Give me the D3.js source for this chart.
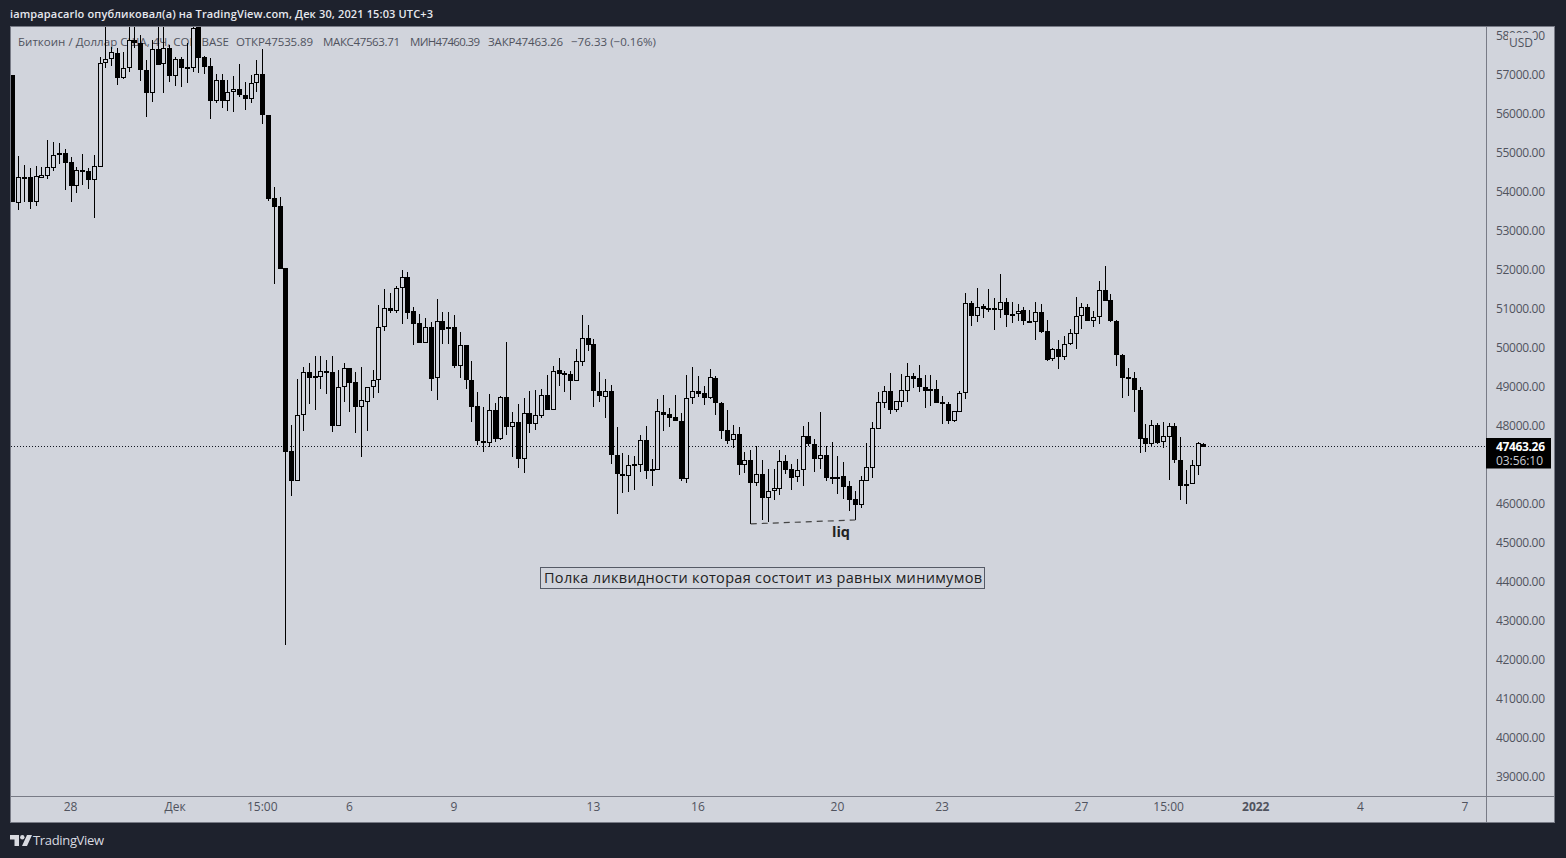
<!DOCTYPE html>
<html><head><meta charset="utf-8">
<script src="https://cdn.jsdelivr.net/npm/d3@7"></script>
<style>
html,body{margin:0;padding:0;background:#1e222d;overflow:hidden}
svg{display:block}
text{font-family:"Open Sans","Noto Sans",sans-serif}
</style></head><body><svg id="c" width="1566" height="858"></svg>
<script>
const open=[
57000,53730,54360,54385,53750,54370,54420,54620,54940,55000,
54760,54160,54555,54540,54315,54650,57320,57400,57555,56930,
57170,57910,57810,57140,56550,57660,57270,57680,56980,57400,
57205,57190,58400,57450,57230,56340,56870,56340,56555,56640,
56500,56380,56790,57020,55980,53840,53640,52050,47360,46600,
48290,49375,49270,49265,49400,49375,48010,48990,49485,49130,
48495,48625,48990,49170,50530,51015,50955,51530,51810,50940,
50630,50135,50530,49240,50685,50480,50530,49545,50070,49190,
48500,47625,47570,48400,47665,48735,47980,48115,47160,48325,
48060,48265,48785,48420,49425,49360,49325,49160,49650,50250,
50095,48900,48755,48890,47260,46780,46725,47025,47000,47630,
46890,46880,48350,48300,48220,48140,46630,48710,48890,48835,
48725,49220,48600,47885,47630,47785,47010,47120,46545,46760,
46165,46325,46395,47095,46890,46685,46860,47735,47550,47165,
47250,46690,46700,46710,46460,46120,45975,46600,46935,47935,
48600,48890,48410,48625,48910,49275,49220,49010,48940,48940,
48605,48555,48130,48370,48840,51145,50830,51065,51015,51015,
50985,51170,50870,50860,50965,50705,50675,50915,50425,49710,
49965,49775,50090,50370,50810,51040,50700,50785,51480,51220,
50690,49830,49245,49220,48935,47680,47545,48015,47580,47730,
47990,47140,46470,46520,46985,47535.89];
const high=[
57000,54920,54690,54620,54670,54630,55330,55270,55250,55100,
54910,54650,54970,54610,54950,57470,58400,57730,57680,57600,
58500,58400,58030,57385,57900,58400,58350,57770,57470,57450,
57810,58300,58500,57490,57430,57030,57030,56870,56970,57280,
56810,57000,57385,57660,55980,54120,53880,52050,48025,49205,
49505,49615,49795,49795,49690,49795,49435,49615,49485,49385,
49510,48990,49435,51095,51510,51410,51580,52000,51940,51050,
50870,50760,50665,51245,50925,50925,50845,50400,50075,49665,
48870,48490,48820,48580,48770,50150,48350,48555,48710,48895,
48925,48950,49305,49540,49745,49420,49410,49975,50845,50590,
50230,49385,49195,49050,47975,47300,47255,47230,47760,47990,
47155,48690,48795,48460,48795,48335,49305,49510,49280,49025,
49455,49270,48610,48410,48025,47965,47335,47375,47480,47120,
46890,46890,47375,47250,47015,47145,48000,48105,47660,48360,
47480,47580,47230,47070,46590,46335,46710,47555,48095,48865,
49015,49360,48640,49335,49605,49350,49565,49310,49310,49170,
48760,48605,48380,48890,51400,51205,51530,51120,51510,51275,
51895,51275,51180,51120,51050,50965,51180,51120,50710,49990,
50205,50305,50480,51305,51155,51120,50950,51710,52100,51385,
50710,49840,49490,49375,49000,48050,48145,48070,48095,48070,
48070,47710,46870,47120,47580,47563.71];
const low=[
53750,53540,53750,53560,53640,54350,54330,54540,54720,54050,
53750,53980,54180,54080,53340,54650,57170,57240,56740,56910,
57085,57700,56850,55930,56320,57256,56550,56830,56730,56700,
56790,57085,57040,57030,55860,56290,56145,56085,56060,56430,
56100,56290,56570,55740,53770,51640,52030,42380,46205,46600,
47870,48565,48410,48940,48820,47845,48010,48615,48360,47820,
47215,47870,48720,48845,50435,50895,50895,50615,50745,50075,
50135,50135,48895,48665,50100,50100,49485,49230,48950,48100,
47510,47335,47470,47590,47640,47770,47215,46925,46800,47820,
47895,48215,48420,48420,49025,48870,48665,49160,49545,49925,
48485,48615,48205,47025,45745,46280,46305,46360,46820,46640,
46460,46880,47870,47975,48135,46590,46540,48565,48745,48540,
48685,48280,47660,47540,47445,46745,46795,45490,46470,45590,
45545,46105,46230,46760,46360,46565,46460,47480,46820,46900,
46590,46515,46255,46130,45810,45590,45900,46600,46660,47935,
48460,48310,48360,48485,48615,48965,48870,48460,48515,48590,
48050,48050,48100,48370,48700,50570,50675,50775,50915,50470,
50775,50545,50650,50700,50600,50675,50215,50395,49665,49675,
49470,49700,50085,49985,50495,50700,50545,50625,51215,50665,
49545,48725,48775,48365,47315,47340,47485,47535,47445,46625,
47060,46110,46010,46520,46735,47460.39];
const close=[
53750,54380,54380,53750,54400,54430,54630,54940,54990,54750,
54160,54555,54520,54310,54660,57300,57400,57580,56930,57170,
57910,57810,57130,56550,57660,57260,57680,56980,57400,57190,
57190,58200,57444,57210,56340,56870,56340,56555,56630,56490,
56380,56790,57020,55980,53820,53620,52030,47340,46600,48270,
49375,49240,49240,49400,49360,48010,48990,49480,49110,48495,
48660,48990,49170,50530,51015,50955,51530,51810,50905,50625,
50135,50530,49215,50685,50470,50530,49540,50070,49190,48495,
47625,47570,48400,47665,48735,47980,48110,47160,48325,48060,
48275,48785,48420,49400,49340,49315,49155,49660,50250,50085,
48895,48780,48890,47255,46780,46720,46990,46985,47630,46845,
46845,48375,48280,48205,48135,46640,48710,48890,48830,48725,
49250,48600,47880,47625,47785,47010,47120,46545,46760,46165,
46325,46400,47095,46870,46665,46865,47735,47545,47165,47250,
46665,46665,46675,46435,46110,45975,46605,46940,47940,48605,
48890,48410,48635,48915,49275,49205,49010,48900,48905,48590,
48555,48130,48375,48840,51145,50830,51060,51010,50995,50985,
51170,50855,50855,50955,50700,50675,50915,50420,49690,49965,
49775,50095,50375,50810,51040,50700,50785,51480,51215,50690,
49830,49240,49215,48930,47665,47545,48015,47570,47735,47990,
47135,46470,46520,46990,47555,47463.26];
const priceTicks=[39000,40000,41000,42000,43000,44000,45000,46000,48000,49000,50000,51000,52000,53000,54000,55000,56000,57000,58000];
const timeTickIdx=[10,28,43,58,76,100,118,142,160,184,199,214,232,250];
const timeTickLabels=["28","Дек","15:00","6","9","13","16","20","23","27","15:00","2022","4","7"];
const lastPrice=47463.26, countdown="03:56:10", changeText="−76.33 (−0.16%)";
const liqFrom=[127,45490], liqTo=[145,45590];
const headerText="iampapacarlo опубликовал(а) на TradingView.com, Дек 30, 2021 15:03 UTC+3";
const legendTitle="Биткоин / Доллар США, 4Ч, COINBASE";
const noteText="Полка ликвидности которая состоит из равных минимумов";

const W=1566,H=858,L=11,R=1486,T=27,B=796,AR=1555,AB=823;
const bg="#d1d4dc",dark="#1e222d",line="#787b86";
const svg=d3.select("#c");
const x=d3.scaleLinear().domain([0,250]).range([12.9,1465.4]);
const y=d3.scaleLinear().domain([39000,57000]).range([777,75]);

svg.append("rect").attr("width",W).attr("height",H).attr("fill",dark);
svg.append("rect").attr("x",L-.5).attr("y",T-.5).attr("width",AR-L).attr("height",AB-T)
  .attr("fill",bg).attr("stroke",line).attr("stroke-width",1);
svg.append("defs").append("clipPath").attr("id","plot").append("rect")
  .attr("x",L).attr("y",T).attr("width",R-L).attr("height",B-T);

svg.append("text").attr("x",10).attr("y",18).attr("font-size",11).attr("font-weight",600)
  .attr("fill","#e6e8ee").attr("textLength",423).text(headerText);

// legend sits under the candles
const lg=svg.append("g").attr("font-size",11.5).attr("fill","#50535e");
lg.append("text").attr("x",18).attr("y",45.5).attr("textLength",211).text(legendTitle);
[[236,"ОТКР",open[205],77],[323,"МАКС",high[205],77],[410,"МИН",low[205],70],[488,"ЗАКР",close[205],75]].forEach(d=>{
  lg.append("text").attr("x",d[0]).attr("y",45.5).attr("textLength",d[3]).text(d[1]+d[2].toFixed(2));
});
lg.append("text").attr("x",571).attr("y",45.5).attr("textLength",85).text(changeText);

const plot=svg.append("g").attr("clip-path","url(#plot)");
plot.append("line").attr("x1",L).attr("x2",R).attr("y1",Math.floor(y(lastPrice))+.5).attr("y2",Math.floor(y(lastPrice))+.5)
  .attr("stroke","#131722").attr("stroke-dasharray","1 2");

const idx=d3.range(open.length);
const cx=i=>Math.floor(x(i));
plot.selectAll(".wick").data(idx).join("rect").attr("class","wick")
  .attr("shape-rendering","crispEdges").attr("fill","#000")
  .attr("x",cx).attr("width",1)
  .attr("y",i=>Math.round(y(high[i])))
  .attr("height",i=>Math.max(1,Math.round(y(low[i]))-Math.round(y(high[i]))));
plot.selectAll(".body").data(idx).join("rect").attr("class","body")
  .attr("shape-rendering","crispEdges")
  .attr("x",i=>cx(i)-1.5).attr("width",4)
  .attr("y",i=>Math.round(y(Math.max(open[i],close[i])))+.5)
  .attr("height",i=>Math.max(1,Math.round(y(Math.min(open[i],close[i])))-Math.round(y(Math.max(open[i],close[i])))-1))
  .attr("fill",i=>close[i]>=open[i]?bg:"#000").attr("stroke","#000").attr("stroke-width",1);

// annotations
plot.append("line").attr("x1",x(liqFrom[0])).attr("y1",y(liqFrom[1])).attr("x2",x(liqTo[0])).attr("y2",y(liqTo[1]))
  .attr("stroke","#444").attr("stroke-width",1.2).attr("stroke-dasharray","6 5");
plot.append("text").attr("x",841).attr("y",537).attr("text-anchor","middle").attr("font-size",14.5)
  .attr("font-weight",700).attr("fill","#222").text("liq");
plot.append("rect").attr("x",540.5).attr("y",567.5).attr("width",444).attr("height",21)
  .attr("fill",bg).attr("stroke","#555a66");
plot.append("text").attr("x",544).attr("y",583).attr("font-size",14.5).attr("fill","#222")
  .attr("textLength",438).text(noteText);

// axes
svg.append("line").attr("x1",R+.5).attr("x2",R+.5).attr("y1",T).attr("y2",AB).attr("stroke",line);
svg.append("line").attr("x1",L).attr("x2",AR).attr("y1",B+.5).attr("y2",B+.5).attr("stroke",line);
const ya=svg.append("g").attr("transform","translate(1496,0)")
  .call(d3.axisRight(y).tickValues(priceTicks).tickSize(0).tickPadding(0).tickFormat(d=>d.toFixed(2)));
ya.select(".domain").remove();
ya.selectAll("text").attr("font-size",12).attr("fill","#50535e").attr("font-family",'"Open Sans"').attr("textLength",49);

const xa=svg.append("g").attr("transform","translate(-1,802)")
  .call(d3.axisBottom(x).tickValues(timeTickIdx).tickSize(0).tickPadding(0).tickFormat((d,i)=>timeTickLabels[i]));
xa.select(".domain").remove();
xa.selectAll("text").attr("font-size",12).attr("fill","#50535e").attr("font-family",'"Open Sans"')
  .attr("font-weight",d=>d===214?700:400).attr("dy",".71em");

// USD tag covers most of the top tick label
svg.append("rect").attr("x",1508).attr("y",33).attr("width",26).attr("height",17).attr("fill",bg);
svg.append("text").attr("x",1521).attr("y",47).attr("text-anchor","middle").attr("font-size",12).attr("fill","#50535e").text("USD");

// last price tag
const ly=y(lastPrice);
svg.append("rect").attr("x",R).attr("y",438).attr("width",65).attr("height",30.5).attr("fill","#000");
svg.append("text").attr("x",1496).attr("y",ly+4).attr("font-size",12).attr("font-weight",700).attr("fill","#fff").attr("textLength",49).text(lastPrice.toFixed(2));
svg.append("text").attr("x",1496).attr("y",ly+18).attr("font-size",12).attr("fill","#c8cad2").attr("textLength",47).text(countdown);

// logo
const lo=svg.append("g").attr("fill","#d8dae0");
lo.append("path").attr("d","M10 835h9v11h-4.5v-6.5H10zM27 835h5l-5 11h-5z");
lo.append("circle").attr("cx",22.3).attr("cy",837.3).attr("r",2.2);
svg.append("text").attr("x",33).attr("y",845).attr("font-size",13).attr("fill","#d8dae0").attr("textLength",71).text("TradingView");
</script></body></html>
